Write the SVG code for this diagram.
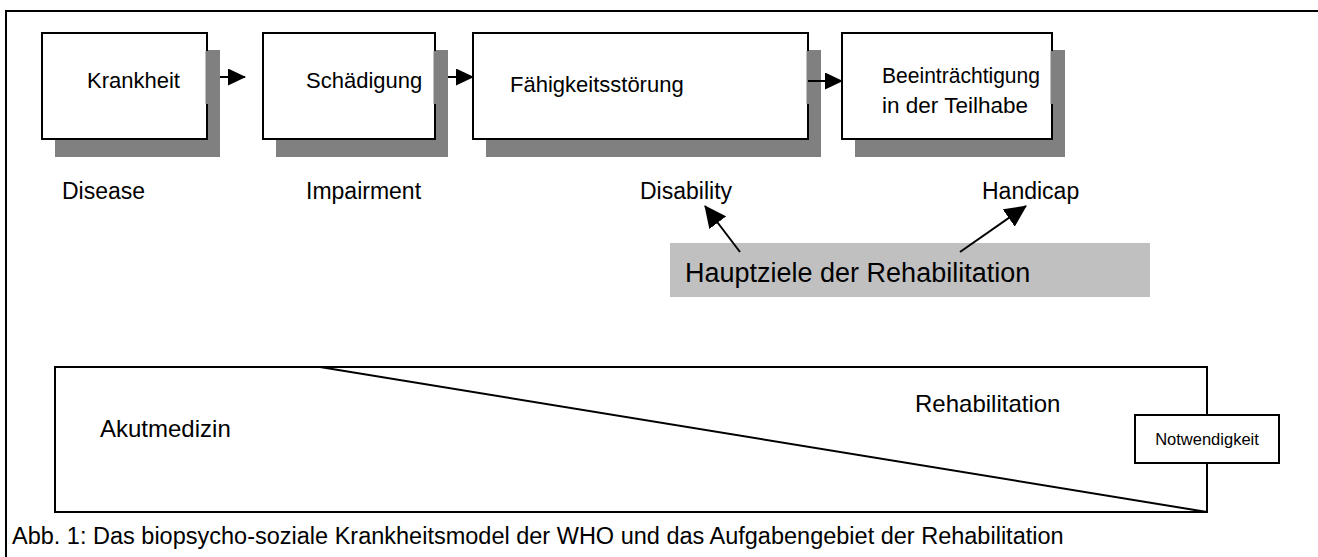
<svg xmlns="http://www.w3.org/2000/svg" width="1318" height="557" viewBox="0 0 1318 557">
<style>
text{font-family:"Liberation Sans",Arial,sans-serif;fill:#000}
.box{fill:#fff;stroke:#000;stroke-width:2}
.sh{fill:#808080}
.ln{stroke:#000;stroke-width:2;fill:none}
.t{font-size:22px}
.l{font-size:23px}
</style>
<defs>
<marker id="ah" markerWidth="18" markerHeight="17" refX="17" refY="8.5" orient="auto" markerUnits="userSpaceOnUse" viewBox="0 0 18 17"><path d="M0,0 L18,8.5 L0,17 Z" fill="#000"/></marker>
<marker id="ahb" markerWidth="22" markerHeight="21" refX="21" refY="10.5" orient="auto" markerUnits="userSpaceOnUse" viewBox="0 0 22 21"><path d="M0,0 L22,10.5 L0,21 Z" fill="#000"/></marker>
</defs>
<rect width="1318" height="557" fill="#fff"/>
<g id="frame"><path class="ln" d="M6,557 V11 H1318"/></g>
<g id="n1"><rect class="sh" x="55" y="50" width="165" height="107"/><rect class="box" x="42" y="33" width="165" height="106"/><rect class="sh" x="205.5" y="51" width="3" height="53"/><text class="t" x="87" y="88">Krankheit</text></g>
<g id="n2"><rect class="sh" x="276" y="50" width="172" height="107"/><rect class="box" x="263" y="33" width="172" height="106"/><rect class="sh" x="433.5" y="51" width="3" height="53"/><text class="t" x="306" y="88">Schädigung</text></g>
<g id="n3"><rect class="sh" x="486" y="50" width="335" height="107"/><rect class="box" x="473" y="33" width="335" height="106"/><rect class="sh" x="806.5" y="51" width="3" height="53"/><text class="t" x="510" y="92">Fähigkeitsstörung</text></g>
<g id="n4"><rect class="sh" x="855" y="50" width="210" height="107"/><rect class="box" x="842" y="33" width="210" height="106"/><rect class="sh" x="1050.5" y="51" width="3" height="53"/><text class="t" x="882" y="83" textLength="158" lengthAdjust="spacingAndGlyphs">Beeinträchtigung</text><text class="t" x="882" y="113" textLength="146" lengthAdjust="spacingAndGlyphs">in der Teilhabe</text></g>
<g id="labels">
<text class="l" x="62" y="199">Disease</text>
<text class="l" x="306" y="199">Impairment</text>
<text class="l" x="640" y="199">Disability</text>
<text class="l" x="982" y="199">Handicap</text>
</g>
<g id="goal"><rect x="670" y="243" width="480" height="54" fill="#c0c0c0"/><text x="685" y="282" font-size="27">Hauptziele der Rehabilitation</text></g>
<g id="scale">
<rect x="55" y="367" width="1152" height="145" fill="#fff" stroke="#000" stroke-width="2"/>
<path class="ln" d="M320,367 L1207,512"/>
<text x="100" y="437" font-size="24">Akutmedizin</text>
<text x="915" y="412" font-size="24">Rehabilitation</text>
</g>
<g id="need"><rect x="1135" y="415" width="144" height="48" fill="#fff" stroke="#000" stroke-width="2"/><text x="1207" y="445" font-size="16.5" text-anchor="middle">Notwendigkeit</text></g>
<g id="connectors">
<line class="ln" x1="220" y1="77" x2="245" y2="77" marker-end="url(#ah)"/>
<line class="ln" x1="448" y1="77" x2="473" y2="77" marker-end="url(#ah)"/>
<line class="ln" x1="808" y1="81" x2="842" y2="81" marker-end="url(#ah)"/>
<line class="ln" x1="740" y1="252" x2="705" y2="206" marker-end="url(#ahb)"/>
<line class="ln" x1="960" y1="252" x2="1026" y2="206" marker-end="url(#ahb)"/>
</g>
<text x="12" y="544" font-size="23.5">Abb. 1:  Das biopsycho-soziale Krankheitsmodel der WHO und das Aufgabengebiet der Rehabilitation</text>
</svg>
